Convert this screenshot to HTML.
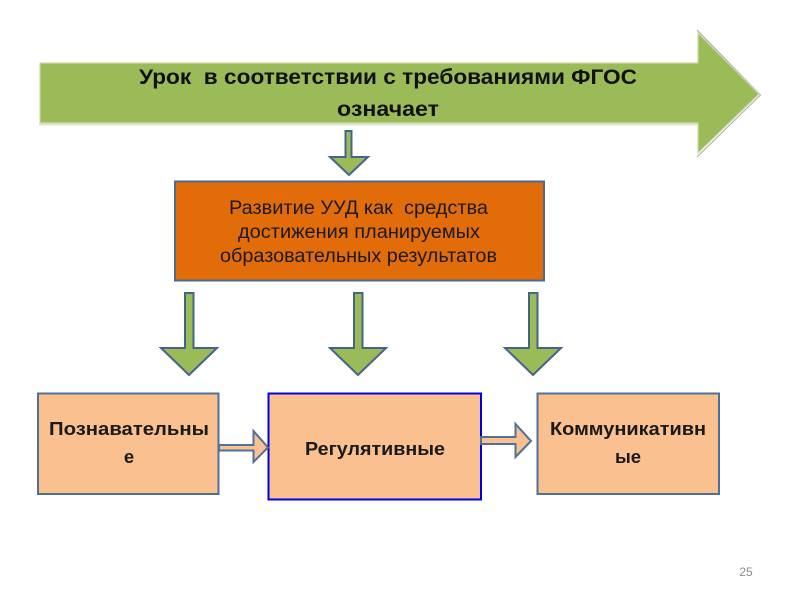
<!DOCTYPE html>
<html><head><meta charset="utf-8">
<style>
html,body{margin:0;padding:0;background:#fff}
svg{display:block;position:absolute;left:0;top:0}
text{font-family:"Liberation Sans",sans-serif}
</style></head><body>
<svg width="800" height="600" viewBox="0 0 800 600" xmlns="http://www.w3.org/2000/svg">
<rect width="800" height="600" fill="#fff"/>
<!-- big arrow -->
<polyline points="39,124.500 697,124.500" fill="none" stroke="#dfe3d6" stroke-width="2"/>
<polyline points="697,157 760.500,95 697,30" fill="none" stroke="#a8a8a8" stroke-width="1"/>
<polygon points="40,63 698,63 698,33 759,94 698,153 698,123 40,123" fill="#9bbb59" stroke="#cbdaa8" stroke-width="1.200"/>
<text x="139" y="84" font-size="21.500" font-weight="bold" fill="#111" textLength="498" lengthAdjust="spacingAndGlyphs" xml:space="preserve">Урок  в соответствии с требованиями ФГОС</text>
<text x="337" y="116" font-size="21.500" font-weight="bold" fill="#111" textLength="102" lengthAdjust="spacingAndGlyphs">означает</text>
<!-- small top arrow -->
<polygon points="345.500,131 351.500,131 351.500,157 368,157 349,175 330,157 345.500,157" fill="#9bbb59" stroke="#44658a" stroke-width="2"/>
<!-- orange box -->
<rect x="175" y="181.500" width="369" height="99" fill="#e36c0a" stroke="#4a6a8e" stroke-width="2"/>
<g font-size="19.500" fill="#1a1a1a">
<text x="229" y="214" textLength="259" lengthAdjust="spacingAndGlyphs" xml:space="preserve">Развитие УУД как  средства</text>
<text x="238" y="238" textLength="242" lengthAdjust="spacingAndGlyphs">достижения планируемых</text>
<text x="220" y="262" textLength="277" lengthAdjust="spacingAndGlyphs">образовательных результатов</text>
</g>
<!-- down arrows -->
<polygon points="185,293 193.500,293 193.500,348 217,348 189,375 161,348 185,348" fill="#9bbb59" stroke="#44658a" stroke-width="2"/>
<polygon points="354,293 362.500,293 362.500,348 386,348 358,375 330,348 354,348" fill="#9bbb59" stroke="#44658a" stroke-width="2"/>
<polygon points="529,293 537.500,293 537.500,348 561,348 533,375 505,348 529,348" fill="#9bbb59" stroke="#44658a" stroke-width="2"/>
<!-- bottom boxes -->
<rect x="38" y="393.500" width="180.500" height="100.500" fill="#fac090" stroke="#4f7199" stroke-width="2"/>
<rect x="268.500" y="393.500" width="212.500" height="106" fill="#fac090" stroke="#0000e0" stroke-width="2"/>
<rect x="537.500" y="393.500" width="181.500" height="100.500" fill="#fac090" stroke="#4f7199" stroke-width="2"/>
<!-- side arrows -->
<polygon points="219,445 253.500,445 253.500,431 268,447.500 253.500,462 253.500,450.500 219,450.500" fill="#fac090" stroke="#4f7199" stroke-width="2"/>
<polygon points="481,437 515.500,437 515.500,424 531,441 515.500,457 515.500,444 481,444" fill="#fac090" stroke="#4f7199" stroke-width="2"/>
<!-- labels -->
<g font-weight="bold" fill="#1a1a1a" font-size="18.500">
<text x="49" y="435" textLength="160" lengthAdjust="spacingAndGlyphs">Познавательны</text>
<text x="129" y="463" text-anchor="middle">е</text>
<text x="305" y="455" textLength="140" lengthAdjust="spacingAndGlyphs">Регулятивные</text>
<text x="550" y="435" textLength="156" lengthAdjust="spacingAndGlyphs">Коммуникативн</text>
<text x="628" y="463" text-anchor="middle">ые</text>
</g>
<text x="746" y="576" text-anchor="middle" font-size="12" fill="#8a8a8a">25</text>
</svg>
</body></html>
